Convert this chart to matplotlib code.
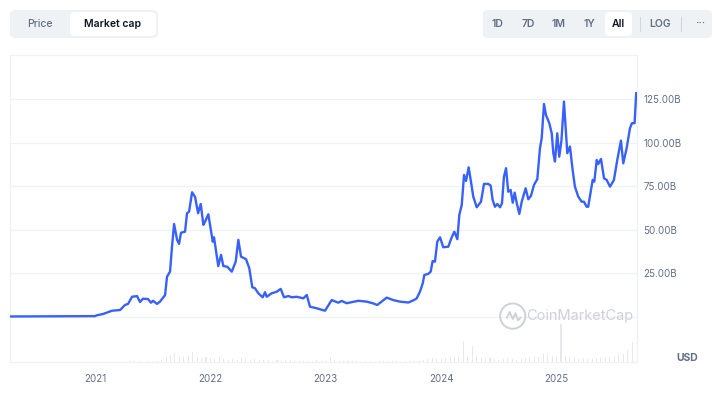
import matplotlib
matplotlib.use("Agg")
import matplotlib.pyplot as plt
from matplotlib.patches import FancyBboxPatch
from matplotlib.path import Path

plt.rcParams['font.family'] = ['Inter', 'DejaVu Sans']

# market cap (USD billions) against decimal year
cap_dates = [2020.263, 2021.000, 2021.017, 2021.069, 2021.147, 2021.217, 2021.260, 2021.286,
             2021.321, 2021.364, 2021.390, 2021.416, 2021.459, 2021.485, 2021.503, 2021.537,
             2021.563, 2021.607, 2021.624, 2021.650, 2021.667, 2021.685, 2021.711, 2021.728,
             2021.745, 2021.780, 2021.797, 2021.815, 2021.841, 2021.867, 2021.893, 2021.916,
             2021.939, 2021.953, 2021.982, 2022.020, 2022.031, 2022.068, 2022.092, 2022.112,
             2022.146, 2022.185, 2022.219, 2022.242, 2022.265, 2022.309, 2022.337, 2022.363,
             2022.386, 2022.415, 2022.453, 2022.473, 2022.488, 2022.531, 2022.575, 2022.609,
             2022.638, 2022.675, 2022.705, 2022.748, 2022.805, 2022.835, 2022.863, 2022.921,
             2022.993, 2023.051, 2023.108, 2023.138, 2023.181, 2023.282, 2023.354, 2023.406,
             2023.446, 2023.528, 2023.585, 2023.643, 2023.715, 2023.764, 2023.788, 2023.816,
             2023.840, 2023.854, 2023.888, 2023.909, 2023.926, 2023.946, 2023.966, 2023.990,
             2024.018, 2024.062, 2024.091, 2024.114, 2024.140, 2024.157, 2024.178, 2024.198,
             2024.215, 2024.238, 2024.258, 2024.278, 2024.308, 2024.345, 2024.371, 2024.408,
             2024.429, 2024.446, 2024.466, 2024.486, 2024.510, 2024.527, 2024.544, 2024.562,
             2024.581, 2024.602, 2024.620, 2024.637, 2024.654, 2024.677, 2024.698, 2024.732,
             2024.755, 2024.778, 2024.804, 2024.833, 2024.856, 2024.871, 2024.891, 2024.908,
             2024.937, 2024.958, 2024.972, 2024.986, 2025.006, 2025.023, 2025.042, 2025.064,
             2025.093, 2025.116, 2025.139, 2025.159, 2025.188, 2025.217, 2025.237, 2025.261,
             2025.274, 2025.313, 2025.327, 2025.348, 2025.361, 2025.385, 2025.411, 2025.434,
             2025.463, 2025.497, 2025.526, 2025.558, 2025.578, 2025.607, 2025.636, 2025.653,
             2025.676, 2025.690]
cap_values = [0.3, 0.5, 1.0, 1.7, 3.6, 4.0, 6.9, 7.5,
              11.6, 12.0, 8.6, 10.5, 10.3, 8.2, 9.3, 7.5,
              8.8, 12.6, 23.1, 26.0, 40.3, 53.3, 44.2, 41.9,
              48.3, 48.9, 59.5, 60.4, 71.5, 68.8, 59.5, 64.8,
              52.8, 54.6, 58.9, 43.2, 45.7, 29.2, 35.6, 29.2,
              28.8, 26.0, 31.7, 44.2, 34.6, 33.1, 27.9, 17.0,
              16.5, 13.6, 11.3, 14.2, 11.6, 13.6, 14.5, 16.1,
              11.3, 12.0, 11.3, 11.6, 10.7, 12.6, 5.9, 5.0,
              3.6, 9.7, 8.2, 9.2, 7.9, 9.3, 8.8, 7.9,
              6.9, 11.1, 9.7, 8.8, 8.3, 9.7, 10.7, 14.5,
              19.3, 24.1, 24.7, 26.0, 32.1, 31.7, 43.2, 45.7,
              40.0, 40.3, 45.7, 48.9, 44.6, 58.5, 64.2, 81.4,
              78.0, 85.8, 77.6, 69.0, 62.9, 66.1, 76.3, 76.3,
              75.3, 67.1, 63.2, 64.8, 62.9, 65.2, 80.4, 85.3,
              71.8, 72.8, 65.5, 71.3, 65.5, 59.1, 66.1, 73.8,
              67.5, 69.4, 75.7, 79.0, 96.7, 102.5, 122.1, 115.8,
              111.1, 105.3, 93.9, 89.1, 105.3, 91.9, 101.0, 123.5,
              93.9, 97.7, 84.3, 74.7, 69.0, 66.1, 66.1, 63.2,
              63.2, 78.6, 77.6, 90.0, 87.7, 90.6, 79.5, 78.6,
              74.7, 78.6, 90.0, 101.1, 88.1, 96.7, 108.2, 111.1,
              111.1, 128.3]

# fortnightly volume (relative), one list per year
vol_2021 = [0, 0, 0, 0, 0, 0, 0, 0.5, 1, 1, 1, 0.5, 1, 1, 1.5, 2, 5, 7, 9, 6, 5, 6, 10, 5, 4, 5]
vol_2022 = [4, 3, 5, 3, 2, 3, 2, 4, 3, 2, 3, 2, 2, 2, 1.5, 2, 1.5, 2, 2, 1.5, 1.5, 1, 1.5, 1, 2, 1.5]
vol_2023 = [1.5, 5, 2, 1, 1, 1, 1, 1, 0.5, 1, 1, 0.5, 1, 1, 1.5, 1, 1, 0.5, 1, 1, 1, 1.5, 2, 3, 4, 3]
vol_2024 = [3, 4, 5, 4, 6, 21, 5, 16, 6, 4, 3, 4, 3, 2, 3, 4, 3, 2, 3, 4, 5, 6, 5, 9, 8, 6]
vol_2025 = [5, 38, 6, 5, 4, 3, 4, 3, 3, 4, 4, 5, 5, 6, 7, 8, 12, 20]

years = [2021, 2022, 2023, 2024, 2025]
y_ticks = [0, 25, 50, 75, 100, 125]
y_labels = ["", "25.00B", "50.00B", "75.00B", "100.00B", "125.00B"]

W, H = 722, 394
BLUE = "#3861fb"
GRID = "#eff1f4"
GREY = "#616e85"

fig = plt.figure(figsize=(W / 100, H / 100), dpi=100)
fig.patch.set_facecolor("white")


def fx(x):
    return x / W


def fy(y):
    return 1 - y / H


rect = [fx(10), fy(362), fx(637) - fx(10), fy(55) - fy(362)]

# volume bars underneath
vax = fig.add_axes(rect)
volumes = vol_2021 + vol_2022 + vol_2023 + vol_2024 + vol_2025
vol_x = [2021 + i / 26 for i in range(len(volumes))]
vax.bar(vol_x, volumes, width=0.009, color="#e6e8ec", linewidth=0)
vax.set_xlim(2020.263, 2025.697)
vax.set_ylim(0, max(volumes) * 8.1)
vax.axis("off")

ax = fig.add_axes(rect, sharex=vax)
ax.patch.set_alpha(0)
ax.plot(cap_dates, cap_values, color=BLUE, lw=1.7, solid_joinstyle="round", zorder=3)
ax.set_xlim(2020.263, 2025.697)
ax.set_ylim(-25.8, 150.2)

ax.set_yticks(y_ticks)
ax.set_yticklabels(y_labels)
ax.yaxis.tick_right()
ax.set_xticks(years)
ax.set_xticklabels([str(y) for y in years])
ax.tick_params(axis="both", length=0, colors=GREY, labelsize=7)
ax.tick_params(axis="y", pad=4.5)
ax.tick_params(axis="x", pad=9)
ax.grid(axis="y", color=GRID, lw=0.9)
for s in ax.spines.values():
    s.set_color(GRID)
    s.set_linewidth(0.9)

# watermark
ax.scatter([2024.62], [0.5], s=330, facecolors="none", edgecolors="#cdd2da", linewidths=1.4, zorder=2)
wave = Path([(-0.55, -0.15), (-0.3, 0.35), (-0.05, -0.2), (0.15, 0.25), (0.35, -0.3), (0.6, -0.05)])
ax.plot([2024.62], [0.5], marker=wave, ms=11, mfc="none", mec="#cdd2da", mew=1.4, ls="none", zorder=2)
ax.text(2024.735, 0.3, "CoinMarketCap", color="#cdd2da", fontsize=10.5, va="center", ha="left", zorder=2)

fig.text(fx(687), fy(358), "USD", color=GREY, fontsize=7.5, fontweight="bold", ha="center", va="center")

# top button groups
def box(x0, y0, x1, y1, color, r):
    p = FancyBboxPatch((fx(x0), fy(y1)), fx(x1) - fx(x0), fy(y0) - fy(y1),
                       boxstyle=f"round,pad=0,rounding_size={r / W}",
                       transform=fig.transFigure, facecolor=color, edgecolor="none")
    fig.patches.append(p)


box(10, 10, 158, 38, "#eff2f5", 7)
box(70, 12, 156, 36, "white", 6)
fig.text(fx(40), fy(24), "Price", color=GREY, fontsize=7.5, fontweight="medium", ha="center", va="center")
fig.text(fx(113), fy(24), "Market cap", color="#0d1421", fontsize=7.5, fontweight="semibold",
         ha="center", va="center")

box(483, 10, 712, 38, "#eff2f5", 7)
box(605, 12, 632, 36, "white", 6)
for label, x in [("1D", 498), ("7D", 528), ("1M", 559), ("1Y", 589), ("LOG", 660), ("···", 700)]:
    fig.text(fx(x), fy(24), label, color=GREY, fontsize=7.5, fontweight="semibold",
             ha="center", va="center")
fig.text(fx(618), fy(24), "All", color="#0d1421", fontsize=7.5, fontweight="semibold",
         ha="center", va="center")
for x in (640, 681):
    fig.add_artist(plt.Line2D([fx(x), fx(x)], [fy(17), fy(31)], color="#cfd6e4", lw=0.8,
                              transform=fig.transFigure))

fig.savefig("out.png", dpi=100)
